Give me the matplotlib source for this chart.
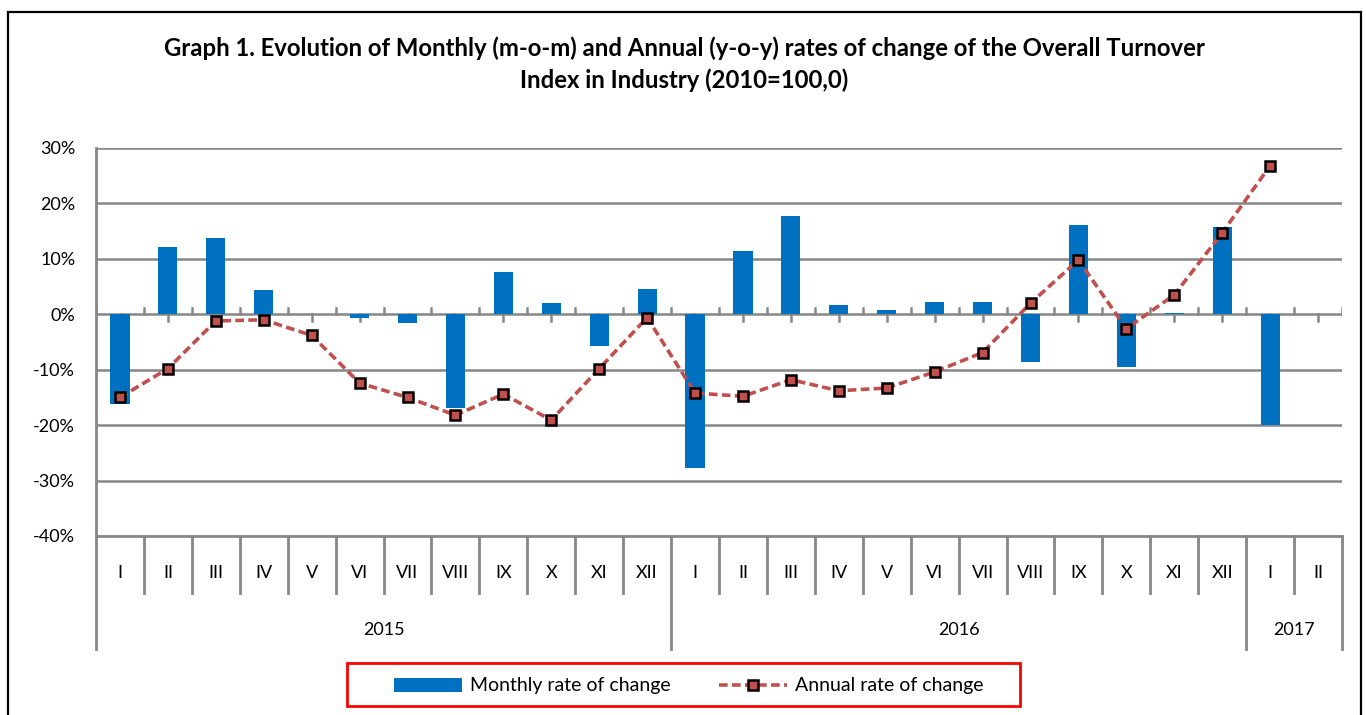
import matplotlib
matplotlib.use("Agg")
import matplotlib.pyplot as plt
from matplotlib.lines import Line2D
from matplotlib.patches import Patch, Rectangle
import numpy as np

# data
months = ['I', 'II', 'III', 'IV', 'V', 'VI', 'VII', 'VIII', 'IX', 'X', 'XI', 'XII',
          'I', 'II', 'III', 'IV', 'V', 'VI', 'VII', 'VIII', 'IX', 'X', 'XI', 'XII',
          'I', 'II']
years = ['2015', '2016', '2017']
months_per_year = [12, 12, 2]

monthly = [-16.2, 12.1, 13.8, 4.3, 0.0, -0.6, -1.5, -16.9, 7.7, 2.0, -5.8, 4.6,
           -27.7, 11.5, 17.8, 1.7, 0.8, 2.2, 2.2, -8.6, 16.1, -9.5, 0.25, 15.8,
           -19.9, np.nan]
annual = [-15.0, -9.8, -1.2, -1.0, -3.8, -12.4, -15.0, -18.2, -14.4, -19.1, -9.8, -0.6,
          -14.2, -14.8, -11.8, -13.8, -13.3, -10.4, -6.9, 2.0, 9.8, -2.6, 3.5, 14.7,
          26.8, np.nan]

yticks = [30, 20, 10, 0, -10, -20, -30, -40]

bar_color = '#0070C0'
line_color = '#C0504D'
grid_color = '#868686'
fs = 13

plt.rcParams['font.family'] = ['Lato', 'DejaVu Sans']

W, H = 1366, 715
fig = plt.figure(figsize=(W / 100, H / 100), dpi=100)

# outer chart border
fig.patches.append(Rectangle((8 / W, -0.02), (1361 - 8) / W, (H - 12) / H + 0.02,
                             transform=fig.transFigure, fill=False,
                             edgecolor='black', linewidth=1.6))

left, right, top, bottom = 96, 1342, 148, 536
ax = fig.add_axes([left / W, (H - bottom) / H, (right - left) / W, (bottom - top) / H])

n = len(months)
x = np.arange(n) + 0.5

ax.bar(x, monthly, width=0.4, color=bar_color, zorder=3)
ax.plot(x, annual, color=line_color, linewidth=2.6, linestyle=(0, (2.4, 1.2)),
        marker='s', markersize=7, markerfacecolor=line_color,
        markeredgecolor='black', markeredgewidth=1.8, zorder=4)

ax.set_xlim(0, n)
ax.set_ylim(-40, 30)
ax.set_yticks(yticks)
ax.set_yticklabels([f'{t}%' for t in yticks], fontsize=fs)
ax.tick_params(axis='y', length=0, pad=15)
ax.set_xticks([])

for t in yticks[:-1]:
    ax.axhline(t, color=grid_color, linewidth=1.8, zorder=1)

for s in ['top', 'right']:
    ax.spines[s].set_visible(False)
for s in ['left', 'bottom']:
    ax.spines[s].set_color(grid_color)
    ax.spines[s].set_linewidth(2)

# small tick marks on the zero line
for i in range(n + 1):
    ax.plot([i, i], [0, 1.2], color=grid_color, linewidth=1.8, zorder=2)
for xi in x:
    ax.plot([xi, xi], [0, -1.2], color=grid_color, linewidth=1.8, zorder=2)

# category table below the plot
tr = ax.get_xaxis_transform()
ah = bottom - top
month_low = -(593 - bottom) / ah
year_low = -(649 - bottom) / ah
boundaries = np.cumsum([0] + months_per_year)
for i in range(n + 1):
    low = year_low if i in boundaries else month_low
    ax.plot([i, i], [0, low], color=grid_color, linewidth=2, transform=tr,
            clip_on=False)
for xi, m in zip(x, months):
    ax.text(xi, -(573 - bottom) / ah, m, transform=tr, ha='center', va='center',
            fontsize=fs)
for k, yr in enumerate(years):
    xc = (boundaries[k] + boundaries[k + 1]) / 2
    ax.text(xc, -(630 - bottom) / ah, yr, transform=tr, ha='center', va='center',
            fontsize=fs)

fig.text(684 / W, 1 - 48 / H,
         'Graph 1. Evolution of Monthly (m-o-m) and Annual (y-o-y) rates of change of the Overall Turnover',
         ha='center', va='center', fontsize=17.2, fontweight='bold')
fig.text(684 / W, 1 - 80 / H, 'Index in Industry (2010=100,0)',
         ha='center', va='center', fontsize=17.2, fontweight='bold')

# legend with its red box
fig.patches.append(Rectangle((347 / W, 1 - 706 / H), (1020 - 347) / W, 43 / H,
                             transform=fig.transFigure, fill=False,
                             edgecolor='red', linewidth=2))
handles = [Patch(facecolor=bar_color, edgecolor='none'),
           Line2D([], [], color=line_color, linewidth=2.6, linestyle=(0, (2.4, 1.2)),
                  marker='s', markersize=7, markerfacecolor=line_color,
                  markeredgecolor='black', markeredgewidth=1.8)]
fig.legend(handles, ['Monthly rate of change', 'Annual rate of change'],
           loc='center left', ncol=2, fontsize=14,
           bbox_to_anchor=(394 / W, 1 - 686 / H),
           frameon=False, handlelength=3.5, columnspacing=2.5,
           borderpad=0, borderaxespad=0, handletextpad=0.4)

fig.savefig('out.png', dpi=100)
